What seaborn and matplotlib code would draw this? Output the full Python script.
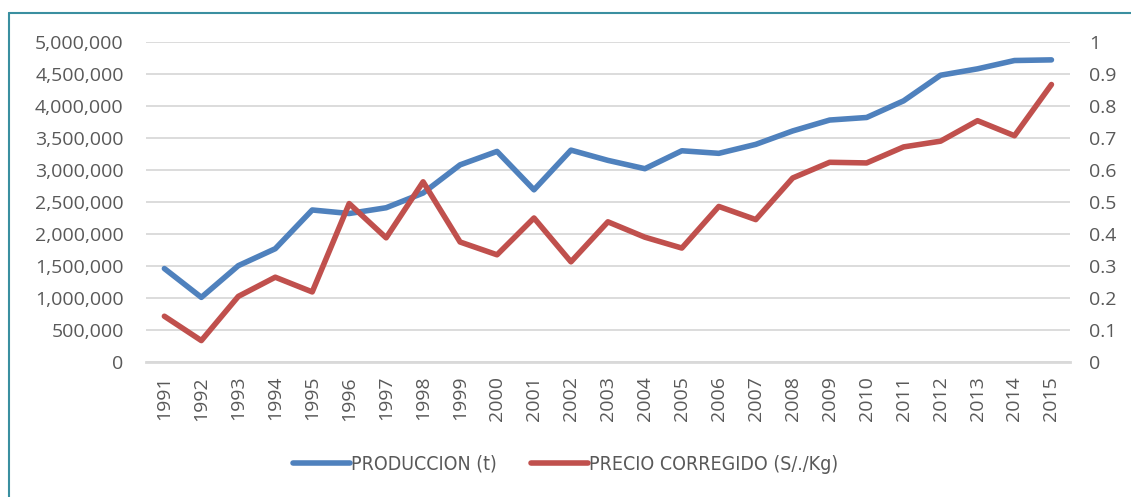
import matplotlib
matplotlib.use('Agg')
import matplotlib.pyplot as plt
from matplotlib.lines import Line2D
from matplotlib.ticker import FuncFormatter
import seaborn as sns
import pandas as pd

years = [str(y) for y in range(1991, 2016)]
produccion = [1460000, 1010000, 1505000, 1770000, 2375000, 2320000, 2410000, 2640000,
              3080000, 3290000, 2690000, 3310000, 3150000, 3020000, 3300000, 3260000,
              3400000, 3610000, 3780000, 3820000, 4080000, 4480000, 4580000, 4710000,
              4720000]
precio = [0.143, 0.067, 0.205, 0.265, 0.219, 0.495, 0.388, 0.563, 0.375, 0.335,
          0.45, 0.313, 0.438, 0.39, 0.356, 0.486, 0.445, 0.575, 0.624, 0.622,
          0.672, 0.69, 0.754, 0.707, 0.867]

df = pd.DataFrame({'year': years, 'prod': produccion, 'precio': precio})

sns.set_style('white')
plt.rcParams['font.family'] = ['Open Sans', 'DejaVu Sans']

blue = '#4f81bd'
red = '#c0504d'
grey = '#595959'

fig = plt.figure(figsize=(11.31, 4.97), dpi=100)
ax = fig.add_axes([0.129, 0.2716, 0.817, 0.644])
ax2 = ax.twinx()

sns.lineplot(data=df, x='year', y='prod', ax=ax, color=blue, linewidth=4, sort=False)
sns.lineplot(data=df, x='year', y='precio', ax=ax2, color=red, linewidth=4, sort=False)

ax.set_xlim(-0.5, len(years) - 0.5)
ax.set_ylim(0, 5000000)
ax.set_yticks(range(0, 5000001, 500000))
ax.yaxis.set_major_formatter(FuncFormatter(lambda v, p: '{:,.0f}'.format(v)))
ax2.set_ylim(0, 1)
ax2.set_yticks([i / 10 for i in range(11)])
ax2.yaxis.set_major_formatter(FuncFormatter(lambda v, p: '{:g}'.format(v)))

ax.grid(axis='y', color='#d9d9d9', linewidth=1.3)
ax.set_axisbelow(True)
for a in (ax, ax2):
    for s in a.spines.values():
        s.set_visible(False)
    a.set_xlabel('')
    a.set_ylabel('')
ax.spines['bottom'].set_visible(True)
ax.spines['bottom'].set_color('#d9d9d9')
ax.spines['bottom'].set_linewidth(2)

ax.tick_params(axis='y', length=0, labelsize=14, colors=grey, pad=16)
ax2.tick_params(axis='y', length=0, labelsize=14, colors=grey, pad=14)
ax.tick_params(axis='x', length=0, labelsize=14, colors=grey, pad=10, rotation=90)

handles = [Line2D([], [], color=blue, linewidth=4), Line2D([], [], color=red, linewidth=4)]
fig.legend(handles, ['PRODUCCION (t)', 'PRECIO CORREGIDO (S/./Kg)'], loc='center',
           bbox_to_anchor=(0.5, 0.066), ncol=2, frameon=False, handlelength=2.9,
           handletextpad=0.05, columnspacing=1.8,
           prop={'family': 'DejaVu Sans', 'stretch': 'condensed', 'size': 14},
           labelcolor=grey)

border = '#3a8fa0'
fig.add_artist(Line2D([9 / 1131, 9 / 1131], [0, 1 - 13 / 497], color=border, linewidth=1.5))
fig.add_artist(Line2D([9 / 1131, 1], [1 - 13 / 497, 1 - 13 / 497], color=border, linewidth=1.5))

fig.savefig('out.png', dpi=100)
